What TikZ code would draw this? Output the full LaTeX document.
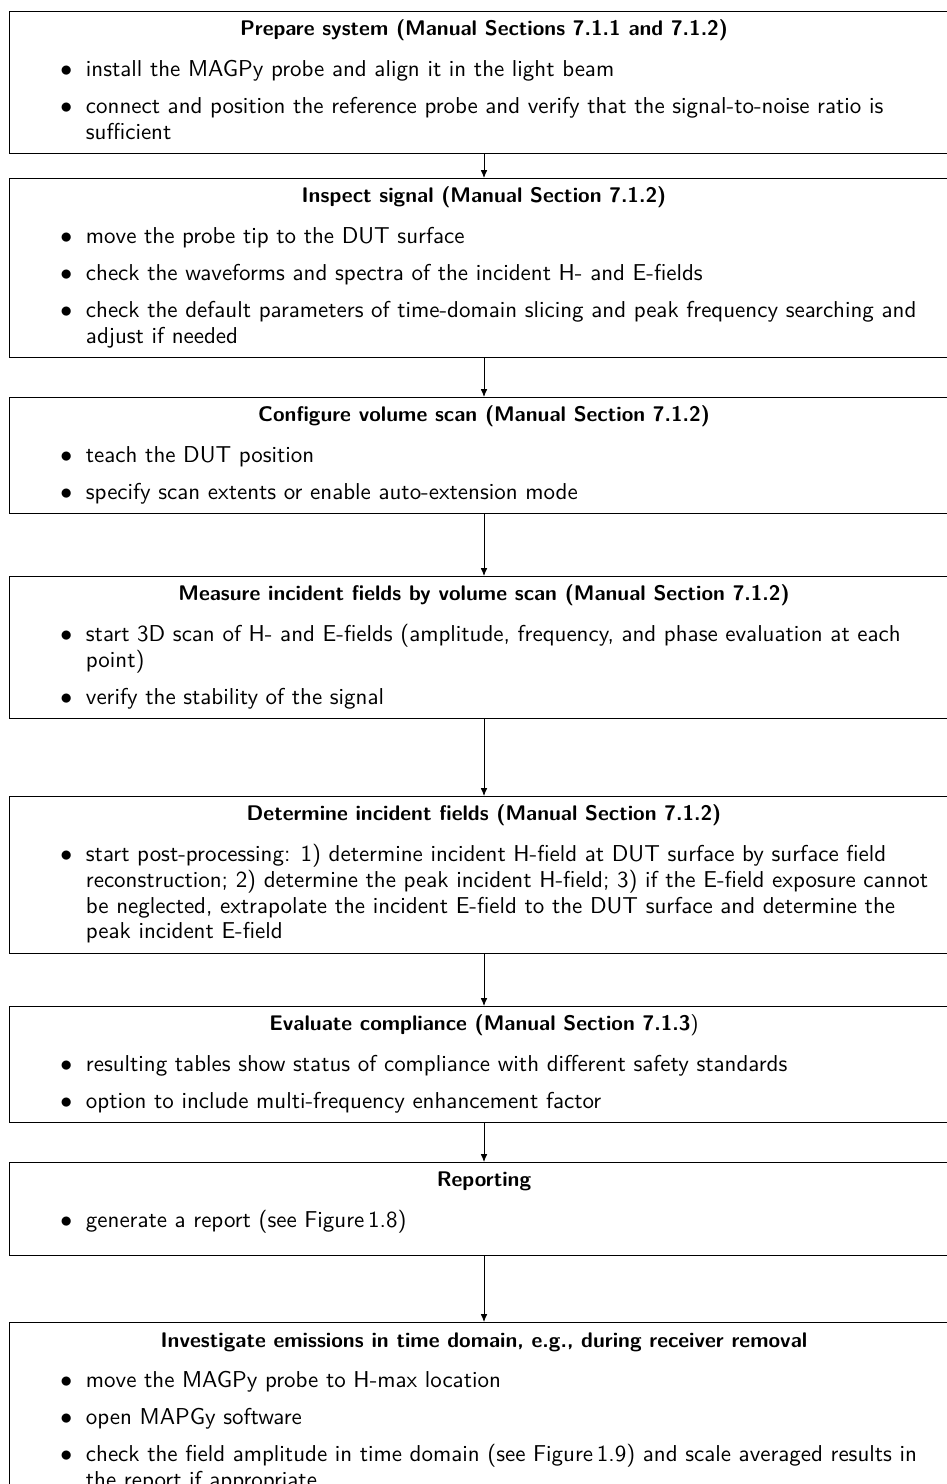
\documentclass[tikz,border=0pt]{standalone}
\usepackage{tikz}
\usetikzlibrary{positioning,arrows.meta}
\renewcommand{\familydefault}{\sfdefault}
\newcommand{\boxhead}[1]{{\centering\fontsize{9.75pt}{11.9pt}\bfseries\strut #1\par}\vspace{1.6pt}}
\newcommand{\bitem}[1]{\par\vspace{5.2pt}\hangindent=27.3pt\hangafter=1\noindent\hbox to 27.3pt{\hss$\bullet$\hskip 6.3pt}#1\strut\par}

\begin{document}
\begin{tikzpicture}[x=0.4615pt,y=-0.4615pt,>={Latex[length=3.6pt,width=3pt]},
  stepbox/.style={draw,anchor=north,font=\sffamily\fontsize{10.6pt}{11.9pt}\selectfont,text width=422pt,inner xsep=8pt,inner ysep=3pt,align=flush left}]
\useasboundingbox (0,0) rectangle (946,1484);
\node[stepbox] (prep) at (484,11) {\boxhead{Prepare system (Manual Sections 7.1.1 and 7.1.2)}
  \bitem{install the MAGPy probe and align it in the light beam}
  \bitem{connect and position the reference probe and verify that the signal-to-noise ratio is sufficient}};
\node[stepbox] (inspect) at (484,178) {\boxhead{Inspect signal (Manual Section 7.1.2)}
  \bitem{move the probe tip to the DUT surface}
  \bitem{check the waveforms and spectra of the incident H- and E-fields}
  \bitem{check the default parameters of time-domain slicing and peak frequency searching and adjust if needed}};
\node[stepbox] (config) at (484,397) {\boxhead{Configure volume scan (Manual Section 7.1.2)}
  \bitem{teach the DUT position}
  \bitem{specify scan extents or enable auto-extension mode}};
\node[stepbox] (volscan) at (484,576) {\boxhead{Measure incident fields by volume scan (Manual Section 7.1.2)}
  \bitem{start 3D scan of H- and E-fields (amplitude, frequency, and phase evaluation at each point)}
  \bitem{verify the stability of the signal}};
\node[stepbox] (determine) at (484,796) {\boxhead{Determine incident fields (Manual Section 7.1.2)}
  \bitem{start post-processing: 1) determine incident H-field at DUT surface by surface field reconstruction; 2) determine the peak incident H-field; 3) if the E-field exposure cannot be neglected, extrapolate the incident E-field to the DUT surface and determine the peak incident E-field}};
\node[stepbox] (evaluate) at (484,1006) {\boxhead{Evaluate compliance (Manual Section 7.1.3{\mdseries)}}
  \bitem{resulting tables show status of compliance with different safety standards}
  \bitem{option to include multi-frequency enhancement factor}};
\node[stepbox] (report) at (484,1162) {\boxhead{Reporting}
  \bitem{generate a report (see Figure\,1.8)\rule[-10pt]{0pt}{1pt}}};
\node[stepbox] (investigate) at (484,1322) {\boxhead{Investigate emissions in time domain, e.g., during receiver removal}
  \bitem{move the MAGPy probe to H-max location}
  \bitem{open MAPGy software}
  \bitem{check the field amplitude in time domain (see Figure\,1.9) and scale averaged results in the report if appropriate}};
% connectors
\foreach \a/\b in {prep/inspect,inspect/config,config/volscan,volscan/determine,determine/evaluate,evaluate/report,report/investigate}
  \draw[->] (\a) -- (\b);
\end{tikzpicture}
\end{document}
